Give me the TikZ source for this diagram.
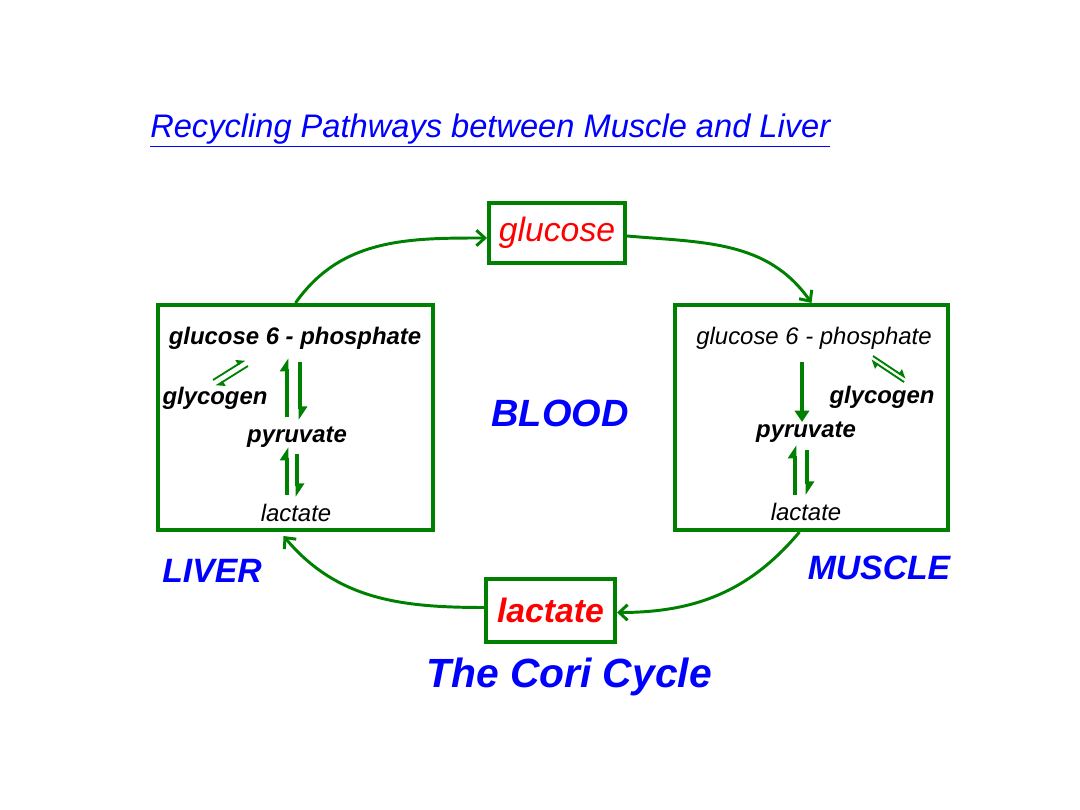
\documentclass[tikz,border=0pt]{standalone}
\usepackage{fontspec}
\setmainfont{Liberation Sans}
\usetikzlibrary{calc, arrows.meta}
\definecolor{coriGreen}{RGB}{0,128,0}
\definecolor{coriBlue}{RGB}{0,0,255}
\definecolor{coriRed}{RGB}{255,0,0}
\tikzset{
  organ box/.style={draw=coriGreen, line width=2.8pt, inner sep=0pt},
  pool box/.style={draw=coriGreen, line width=2.8pt, inner sep=0pt, text=coriRed},
  cycle line/.style={coriGreen, line width=2.1pt, -{Straight Barb[length=6pt, width=11pt]}},
  step line/.style={coriGreen, line width=2.2pt, -{Triangle[harpoon, length=8pt, width=10pt]}},
  full step line/.style={coriGreen, line width=2.2pt, -{Triangle[length=8pt, width=10pt]}},
  swap line/.style={coriGreen, line width=1.3pt, -{Triangle[harpoon, length=5pt, width=7pt]}},
  metabolite/.style={inner sep=1pt, font=\fontsize{17}{20}\selectfont\itshape},
  bold metabolite/.style={metabolite, font=\fontsize{17}{20}\selectfont\itshape\bfseries},
  tissue label/.style={inner sep=0pt, text=coriBlue, font=\fontsize{24}{28}\selectfont\itshape\bfseries},
}

\begin{document}
\begin{tikzpicture}[x=0.025cm, y=0.025cm]
  \useasboundingbox (0,0) rectangle (1080,810);
  % title
  \node[anchor=base west, inner sep=0pt, text=coriBlue, font=\fontsize{23.2}{27}\selectfont\itshape]
    (title) at (150,672) {\underline{Recycling Pathways between Muscle and Liver}};
  % blood pools
  \node[pool box, minimum width=3.4cm, minimum height=1.5cm, font=\fontsize{24}{28}\selectfont\itshape]
    (glucosePool) at (557,577) {glucose};
  \node[pool box, minimum width=3.225cm, minimum height=1.575cm, font=\fontsize{24}{28}\selectfont\itshape\bfseries]
    (lactatePool) at (550.5,199.5) {lactate};
  % organs
  \node[organ box, minimum width=6.875cm, minimum height=5.625cm] (liverBox) at (295.5,392.5) {};
  \node[organ box, minimum width=6.825cm, minimum height=5.625cm] (muscleBox) at (811.5,392.5) {};
  \node[tissue label, font=\fontsize{27}{32}\selectfont\itshape\bfseries] (blood) at (560,397) {BLOOD};
  \node[tissue label] (liverLabel) at (212,239) {LIVER};
  \node[tissue label] (muscleLabel) at (879,242) {MUSCLE};
  \node[tissue label, font=\fontsize{29}{34}\selectfont\itshape\bfseries] (cori) at (569,133) {The Cori Cycle};
  % liver contents
  \node[bold metabolite] (lG6P) at (295,472) {glucose 6 - phosphate};
  \node[bold metabolite] (lGly) at (215,412) {glycogen};
  \node[bold metabolite] (lPyr) at (297,373) {pyruvate};
  \node[metabolite] (lLac) at (296,297) {lactate};
  \draw[step line] ($(lPyr)+(-10,20)$) -- ($(lPyr)+(-10,79)$);
  \draw[step line] ($(lPyr)+(3,75)$) -- ($(lPyr)+(3,17)$);
  \draw[step line] ($(lPyr)+(-10,-58)$) -- ($(lPyr)+(-10,-10)$);
  \draw[step line] ($(lPyr)+(0,-17)$) -- ($(lPyr)+(0,-60)$);
  \draw[swap line] ($(lGly)+(-2,18)$) -- ($(lGly)+(30,38)$);
  \draw[swap line] ($(lGly)+(33,32)$) -- ($(lGly)+(1,12)$);
  % muscle contents
  \node[metabolite] (mG6P) at (814,472) {glucose 6 - phosphate};
  \node[bold metabolite] (mGly) at (882,413) {glycogen};
  \node[bold metabolite] (mPyr) at (806,378) {pyruvate};
  \node[metabolite] (mLac) at (806,298) {lactate};
  \draw[full step line] ($(mPyr)+(-4,70)$) -- ($(mPyr)+(-4,10)$);
  \draw[step line] ($(mPyr)+(-11,-63)$) -- ($(mPyr)+(-11,-13)$);
  \draw[step line] ($(mPyr)+(1,-18)$) -- ($(mPyr)+(1,-63)$);
  \draw[swap line] ($(mGly)+(22,15)$) -- ($(mGly)+(-11,37)$);
  \draw[swap line] ($(mGly)+(-9,41)$) -- ($(mGly)+(24,19)$);
  % the cycle
  \draw[cycle line] (liverBox.north) to[out=55, in=180] ($(glucosePool.west)+(0,-5)$);
  \draw[cycle line] ($(glucosePool.east)+(0,-3)$) to[out=-5, in=125] (muscleBox.north);
  \draw[cycle line] ($(muscleBox.south)+(-12,0)$) to[out=-130, in=0] ($(lactatePool.east)+(0,-2)$);
  \draw[cycle line] ($(lactatePool.west)+(0,3)$) to[out=180, in=-50] ($(liverBox.south)+(-12,-4)$);
\end{tikzpicture}
\end{document}
